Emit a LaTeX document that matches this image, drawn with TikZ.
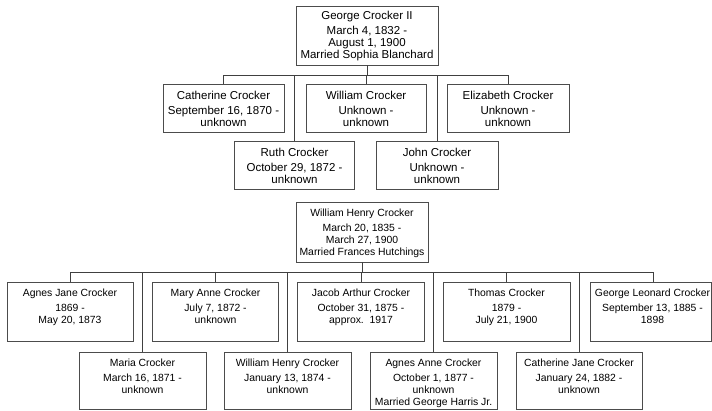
\documentclass[tikz,border=0pt]{standalone}
\usepackage{fontspec}
\setmainfont{Liberation Sans}
\usetikzlibrary{positioning}

\tikzset{
  member/.style={draw=black!70, line width=0.6pt, inner sep=0pt},
  info/.style={anchor=north, align=center, yshift=-3pt, inner sep=2pt},
  elder/.style={font=\fontsize{11.5}{12}\selectfont},
  younger/.style={font=\fontsize{10.4}{11.8}\selectfont, yshift=-2.5pt},
  link/.style={draw=black!75, line width=0.6pt},
}

\begin{document}
\begin{tikzpicture}[x=1pt, y=-1pt]
  \useasboundingbox (0,0) rectangle (712,410);

  % George Crocker II and his children
  \node[member, minimum width=142pt, minimum height=59pt,
      label={[info,elder]north:{George Crocker II\\[3pt] March 4, 1832 -\\ August 1, 1900\\ Married Sophia Blanchard}}]
      (george) at (367,35.5) {};
  \node[member, minimum width=121pt, minimum height=48pt,
      label={[info,elder,yshift=-2.5pt]north:{Catherine Crocker\\[3pt] September 16, 1870 -\\ unknown}}]
      (cath) at (223.5,108) {};
  \node[member, minimum width=120pt, minimum height=48pt,
      label={[info,elder,yshift=-2.5pt]north:{William Crocker\\[3pt] Unknown -\\ unknown}}]
      (will) at (366,108) {};
  \node[member, minimum width=122pt, minimum height=48pt,
      label={[info,elder,yshift=-2.5pt]north:{Elizabeth Crocker\\[3pt] Unknown -\\ unknown}}]
      (eliz) at (508,108) {};
  \node[member, minimum width=120pt, minimum height=48pt,
      label={[info,elder,yshift=-2.5pt]north:{Ruth Crocker\\[3pt] October 29, 1872 -\\ unknown}}]
      (ruth) at (294.5,165) {};
  \node[member, minimum width=122pt, minimum height=48pt,
      label={[info,elder,yshift=-2.5pt]north:{John Crocker\\[3pt] Unknown -\\ unknown}}]
      (john) at (437,165) {};

  \coordinate (busA) at (0,75);
  \draw[link] (george.south) -- (george.south |- busA);
  \foreach \kid in {cath,will,eliz,ruth,john}
    \draw[link] (\kid.north) |- (george.south |- busA);

  % William Henry Crocker and his children
  \node[member, minimum width=132pt, minimum height=60pt,
      label={[info,younger]north:{William Henry Crocker\\[3pt] March 20, 1835 -\\ March 27, 1900\\ Married Frances Hutchings}}]
      (whc) at (362,232) {};
  \node[member, minimum width=126pt, minimum height=59pt,
      label={[info,younger]north:{Agnes Jane Crocker\\[3pt] 1869 -\\ May 20, 1873}}]
      (agnesj) at (70,311.5) {};
  \node[member, minimum width=126pt, minimum height=59pt,
      label={[info,younger]north:{Mary Anne Crocker\\[3pt] July 7, 1872 -\\ unknown}}]
      (marya) at (215.5,311.5) {};
  \node[member, minimum width=127pt, minimum height=59pt,
      label={[info,younger]north:{Jacob Arthur Crocker\\[3pt] October 31, 1875 -\\ approx.\ \ 1917}}]
      (jacob) at (361,311.5) {};
  \node[member, minimum width=127pt, minimum height=59pt,
      label={[info,younger]north:{Thomas Crocker\\[3pt] 1879 -\\ July 21, 1900}}]
      (thomas) at (506.5,311.5) {};
  \node[member, minimum width=121pt, minimum height=59pt,
      label={[info,younger,xshift=2pt]north:{George Leonard Crocker\\[3pt] September 13, 1885 -\\ 1898}}]
      (georgel) at (650.5,311.5) {};
  \node[member, minimum width=127pt, minimum height=57pt,
      label={[info,younger]north:{Maria Crocker\\[3pt] March 16, 1871 -\\ unknown}}]
      (maria) at (142.5,380.5) {};
  \node[member, minimum width=127pt, minimum height=57pt,
      label={[info,younger]north:{William Henry Crocker\\[3pt] January 13, 1874 -\\ unknown}}]
      (willj) at (287.5,380.5) {};
  \node[member, minimum width=127pt, minimum height=57pt,
      label={[info,younger]north:{Agnes Anne Crocker\\[3pt] October 1, 1877 -\\ unknown\\ Married George Harris Jr.}}]
      (agnesa) at (433.5,380.5) {};
  \node[member, minimum width=126pt, minimum height=57pt,
      label={[info,younger]north:{Catherine Jane Crocker\\[3pt] January 24, 1882 -\\ unknown}}]
      (cathj) at (579,380.5) {};

  \coordinate (busB) at (0,272);
  \draw[link] (whc.south) -- (whc.south |- busB);
  \foreach \kid in {agnesj,maria,marya,willj,jacob,agnesa,thomas,cathj}
    \draw[link] (\kid.north) |- (whc.south |- busB);
  \draw[link] (georgel.north -| 653,0) |- (whc.south |- busB);
\end{tikzpicture}
\end{document}
